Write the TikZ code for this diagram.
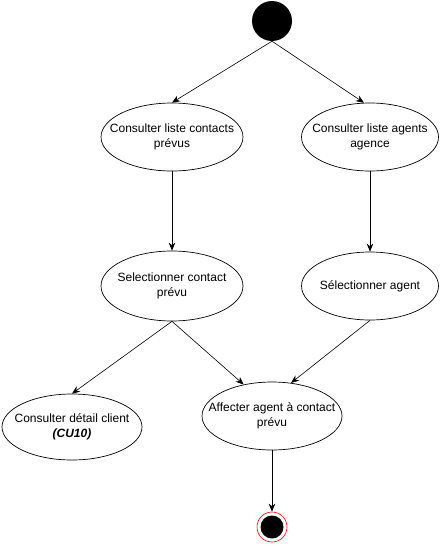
\documentclass[tikz,border=0pt]{standalone}
\usepackage{fontspec}
\setmainfont{Liberation Sans}
\usetikzlibrary{shapes.geometric,arrows.meta}

\begin{document}
\begin{tikzpicture}[x=1pt,y=-1pt,
  usecase/.style={ellipse, draw, line width=0.7pt, inner sep=0pt, minimum width=140pt, minimum height=68pt},
  txt/.style={align=center, font=\fontsize{12}{15}\selectfont},
  flow/.style={-{Stealth[length=8pt,width=6.5pt]}, line width=0.6pt},
  startnode/.style={circle, fill=black, minimum size=40pt, inner sep=0pt},
  endnode/.style={circle, draw=red, line width=0.6pt, fill=white, minimum size=30pt, inner sep=0pt,
    path picture={\fill[black] (path picture bounding box.center) circle (11.5pt);}}]
\useasboundingbox (0,0) rectangle (443,546);

\node[startnode] (start) at (272,21) {};
\node[usecase, minimum width=142pt, label={[txt]center:Consulter liste contacts\\prévus}] (consultContacts) at (172,137) {};
\node[usecase, minimum width=137pt, label={[txt]center:Consulter liste agents\\agence}] (consultAgents) at (370,137) {};
\node[usecase, minimum width=142pt, minimum height=70pt, label={[txt]center:Selectionner contact\\prévu}] (selContact) at (172,286) {};
\node[usecase, minimum width=137pt, label={[txt]center:Sélectionner agent}] (selAgent) at (370,286) {};
\node[usecase, minimum height=66pt, label={[txt]center:Consulter détail client\\\textbf{\textit{(CU10)}}}] (detailClient) at (72,427) {};
\node[usecase, label={[txt]center:Affecter agent à contact\\prévu}] (affecter) at (272,416) {};
\node[endnode] (end) at (272,527) {};

\draw[flow] (start.south) -- (consultContacts.north);
\draw[flow] (start.south) -- (consultAgents.100);
\draw[flow] (consultContacts) -- (selContact);
\draw[flow] (consultAgents) -- (selAgent);
\draw[flow] (selContact.south) -- (detailClient.north);
\draw[flow] (selContact.south) -- (affecter.132);
\draw[flow] (selAgent.south) -- (affecter.60);
\draw[flow] (affecter) -- (end);
\end{tikzpicture}
\end{document}
